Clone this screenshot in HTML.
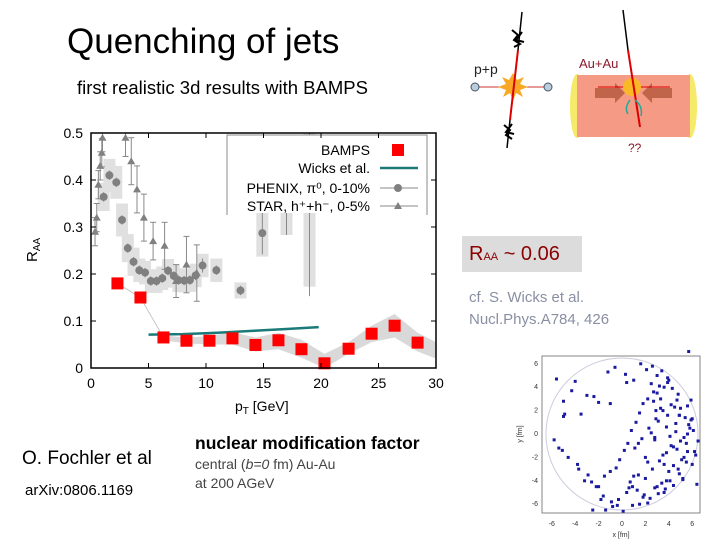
<!DOCTYPE html>
<html><head><meta charset="utf-8"><style>
body{margin:0;background:#fff;}
#root{position:relative;width:720px;height:540px;overflow:hidden;background:#fff;font-family:"Liberation Sans",sans-serif;}
.t{position:absolute;white-space:nowrap;}
</style></head><body>
<div id="root">
<div class="t" style="left:67px;top:22px;font-size:35px;color:#000;">Quenching of jets</div>
<div class="t" style="left:77px;top:77px;font-size:18.5px;color:#000;">first realistic 3d results with BAMPS</div>

<svg id="chart" style="position:absolute;left:0;top:0" width="460" height="420"></svg>

<svg style="position:absolute;left:460px;top:0" width="260" height="170">
 <g>
  <line x1="15" y1="87" x2="88" y2="87" stroke="#c33" stroke-width="1"/>
  <circle cx="15" cy="87" r="4" fill="#bcd" stroke="#456"/>
  <circle cx="88" cy="87" r="4" fill="#bcd" stroke="#456"/>
  <polygon points="53,73 57,80 64,77 60,84 68,87 60,90 63,97 56,93 53,101 50,93 43,97 46,90 38,87 46,84 42,77 49,80" fill="#f9a825"/>
  <line x1="58" y1="50" x2="50" y2="120" stroke="#d00" stroke-width="2"/>
  <line x1="58" y1="50" x2="62" y2="12" stroke="#000" stroke-width="1.5"/>
  <line x1="50" y1="120" x2="47" y2="148" stroke="#000" stroke-width="1.5"/>
  <path d="M52 30 l6 5 l-4 5 l6 4 l-6 3 M62 32 l-6 8 l8 2" stroke="#000" stroke-width="2" fill="none"/>
  <path d="M44 125 l6 5 l-4 5 l6 4 M52 124 l-6 8 l8 2" stroke="#000" stroke-width="2" fill="none"/>
  <text x="14" y="74" font-size="14" font-family="Liberation Sans, sans-serif" fill="#222">p+p</text>
 </g>
 <g>
  <ellipse cx="117" cy="106" rx="7" ry="32" fill="#f5ea6a"/>
  <ellipse cx="230" cy="106" rx="7" ry="32" fill="#f5ea6a"/>
  <rect x="117" y="75" width="113" height="62" fill="#f59a85"/>
  <path d="M135 88 h20 v-5 l10 10 l-10 10 v-5 h-20z" fill="#c0654a"/>
  <path d="M212 88 h-20 v-5 l-10 10 l10 10 v-5 h20z" fill="#c0654a"/>
  <line x1="138" y1="87" x2="210" y2="87" stroke="#d00" stroke-width="1"/>
  <circle cx="172" cy="87" r="9" fill="#f9b825"/>
  <line x1="168" y1="50" x2="180" y2="127" stroke="#d00" stroke-width="2"/>
  <line x1="168" y1="50" x2="163" y2="10" stroke="#000" stroke-width="1.5"/>
  <path d="M170 100 q-6 8 -2 14 M175 100 q8 6 6 16" stroke="#2a9" stroke-width="1.5" fill="none"/>
  <text x="119" y="68" font-size="13" font-family="Liberation Sans, sans-serif" fill="#8b1a2a">Au+Au</text>
  <text x="168" y="152" font-size="12" font-family="Liberation Sans, sans-serif" fill="#8b1a2a">??</text>
 </g>
</svg>

<div style="position:absolute;left:462px;top:236px;width:120px;height:36px;background:#dcdcdc;"></div>
<div class="t" style="left:469px;top:243px;font-size:20px;color:#8b0000;">R<span style="font-size:11px">AA</span> ~ 0.06</div>
<div class="t" style="left:469px;top:287px;font-size:15px;line-height:22px;color:#8a8fa3;">cf. S. Wicks et al.<br>Nucl.Phys.A784, 426</div>

<div class="t" style="left:22px;top:448px;font-size:19px;color:#000;">O. Fochler et al</div>
<div class="t" style="left:25px;top:482px;font-size:15px;color:#000;">arXiv:0806.1169</div>
<div class="t" style="left:195px;top:433px;font-size:17.5px;font-weight:bold;color:#000;">nuclear modification factor</div>
<div class="t" style="left:195px;top:455px;font-size:14px;line-height:19px;color:#444;">central (<i>b=0</i> fm) Au-Au<br>at 200 AGeV</div>

<svg id="scatter" style="position:absolute;left:500px;top:350px" width="220" height="190"></svg>
</div>
<script>
const NS="http://www.w3.org/2000/svg";
// ---- main chart data ----
const xTicks=[0,5,10,15,20,25,30];
const yTicks=[0,0.1,0.2,0.3,0.4,0.5];
const bampsPt=[2.3,4.3,6.3,8.3,10.3,12.3,14.3,16.3,18.3,20.3,22.4,24.4,26.4,28.4];
const bampsR=[0.18,0.15,0.065,0.058,0.058,0.063,0.049,0.059,0.04,0.01,0.041,0.073,0.09,0.054];
const bandPt=[6,8.3,10.3,12.3,14.3,16.3,18.3,20.3,22.4,24.4,26.4,28.4,30];
const bandLo=[0.06,0.052,0.05,0.05,0.035,0.04,0.022,0.0,0.03,0.055,0.065,0.035,0.02];
const bandHi=[0.07,0.065,0.068,0.076,0.065,0.075,0.06,0.03,0.055,0.09,0.115,0.075,0.055];
const wicksPt=[5,8,11,14,17,19.8];
const wicksR=[0.071,0.072,0.075,0.079,0.083,0.087];
const phenixPt=[1.1,1.6,2.2,2.7,3.2,3.7,4.2,4.7,5.2,5.7,6.2,6.7,7.2,7.6,8.1,8.6,9.1,9.7,10.9,13.0,14.9,17.0,19.0];
const phenixR=[0.364,0.41,0.395,0.315,0.255,0.226,0.208,0.203,0.185,0.185,0.191,0.207,0.196,0.187,0.186,0.187,0.197,0.218,0.208,0.165,0.287,0.373,0.343];
const phenixErr=[0.01,0.01,0.01,0.01,0.01,0.01,0.01,0.01,0.01,0.01,0.01,0.01,0.01,0.01,0.01,0.01,0.01,0.015,0.01,0.01,0.045,0.09,0.19];
const phenixSys=[0.03,0.035,0.035,0.035,0.03,0.03,0.025,0.025,0.025,0.025,0.025,0.025,0.025,0.025,0.025,0.025,0.025,0.025,0.025,0.017,0.05,0.09,0.17];
const starPt=[0.35,0.5,0.64,0.8,0.94,1.0,3.0,3.5,4.0,4.6,5.4,6.4,7.4,8.3,9.2];
const starR=[0.29,0.32,0.39,0.43,0.458,0.49,0.49,0.44,0.38,0.32,0.27,0.26,0.185,0.22,0.202];
const starErr=[0.03,0.03,0.03,0.03,0.03,0.03,0.04,0.05,0.05,0.05,0.04,0.05,0.035,0.06,0.06];
const legendLabels=["BAMPS","Wicks et al.","PHENIX, \u03c0\u2070, 0-10%","STAR, h\u207a+h\u207b, 0-5%"];

const X0=91,X1=436,Y0=368,Y1=133;
const xs=v=>X0+v/30*(X1-X0);
const ys=v=>Y0-v/0.5*(Y0-Y1);
const ch=document.getElementById('chart');
function mk(tag,attrs,parent){const e=document.createElementNS(NS,tag);for(const k in attrs)e.setAttribute(k,attrs[k]);(parent||ch).appendChild(e);return e;}
const clip=mk('clipPath',{id:'pc'});mk('rect',{x:X0,y:Y1,width:X1-X0,height:Y0-Y1},clip);
const plot=mk('g',{'clip-path':'url(#pc)'});


let bp=bandPt.map((p,i)=>xs(p)+','+ys(bandHi[i])).join(' ')+' '+bandPt.map((p,i)=>xs(p)+','+ys(bandLo[i])).reverse().join(' ');
const band=mk('polygon',{points:bp,fill:'#d9d9d9'},plot);


phenixPt.forEach((p,i)=>{const r=mk('rect',{x:xs(p)-6,y:ys(phenixR[i]+phenixSys[i]),width:12,height:ys(phenixR[i]-phenixSys[i])-ys(phenixR[i]+phenixSys[i]),fill:'#e0e0e0'},plot);

});
const bl=mk('polyline',{points:bampsPt.slice(0,3).map((p,i)=>xs(p)+','+ys(bampsR[i])).join(' '),fill:'none',stroke:'#bbb','stroke-width':0.8},plot);


starPt.forEach((p,i)=>{const g=mk('g',{},plot);


const x=xs(p),y=ys(starR[i]);
mk('line',{x1:x,x2:x,y1:ys(starR[i]+starErr[i]),y2:ys(starR[i]-starErr[i]),stroke:'#888','stroke-width':1},g);
mk('line',{x1:x-3,x2:x+3,y1:ys(starR[i]+starErr[i]),y2:ys(starR[i]+starErr[i]),stroke:'#888'},g);
mk('line',{x1:x-3,x2:x+3,y1:ys(starR[i]-starErr[i]),y2:ys(starR[i]-starErr[i]),stroke:'#888'},g);
mk('polygon',{points:`${x},${y-4} ${x-4},${y+3} ${x+4},${y+3}`,fill:'#808080'},g);});
phenixPt.forEach((p,i)=>{const g=mk('g',{},plot);


const x=xs(p);
mk('line',{x1:x,x2:x,y1:ys(phenixR[i]+phenixErr[i]),y2:ys(phenixR[i]-phenixErr[i]),stroke:'#888'},g);
mk('circle',{cx:x,cy:ys(phenixR[i]),r:4,fill:'#808080'},g);});
const wl=mk('polyline',{points:wicksPt.map((p,i)=>xs(p)+','+ys(wicksR[i])).join(' '),fill:'none',stroke:'#1a7a78','stroke-width':2.5},plot);


bampsPt.forEach((p,i)=>{const r=mk('rect',{x:xs(p)-6,y:ys(bampsR[i])-6,width:12,height:12,fill:'#f00'});

});
const lg=mk('g',{});


mk('rect',{x:227,y:135,width:200,height:78,fill:'#fff'},lg);
mk('polyline',{points:'227,215 227,135 427,135 427,215',fill:'none',stroke:'#888','stroke-width':1},lg);
const ly=[150,168,188,206];
legendLabels.forEach((t,i)=>{const tx=mk('text',{x:370,y:ly[i]+5,'text-anchor':'end','font-size':14,'font-family':'Liberation Sans, sans-serif',fill:'#000'},lg);tx.textContent=t;

});
mk('rect',{x:392,y:144,width:12,height:12,fill:'#f00'},lg);
mk('line',{x1:380,x2:418,y1:168,y2:168,stroke:'#1a7a78','stroke-width':2.5},lg);
mk('line',{x1:380,x2:418,y1:188,y2:188,stroke:'#888'},lg);mk('circle',{cx:398,cy:188,r:4,fill:'#808080'},lg);
mk('line',{x1:380,x2:418,y1:206,y2:206,stroke:'#888'},lg);mk('polygon',{points:'398,202 394,209 402,209',fill:'#808080'},lg);
const fr=mk('rect',{x:X0,y:Y1,width:X1-X0,height:Y0-Y1,fill:'none',stroke:'#000','stroke-width':1.5});


xTicks.forEach(v=>{mk('line',{x1:xs(v),x2:xs(v),y1:Y0,y2:Y0-5,stroke:'#000'});mk('line',{x1:xs(v),x2:xs(v),y1:Y1,y2:Y1+5,stroke:'#000'});
const t=mk('text',{x:xs(v),y:388,'text-anchor':'middle','font-size':14,'font-family':'Liberation Sans, sans-serif'});t.textContent=v;

});
yTicks.forEach(v=>{mk('line',{x1:X0,x2:X0+5,y1:ys(v),y2:ys(v),stroke:'#000'});mk('line',{x1:X1,x2:X1-5,y1:ys(v),y2:ys(v),stroke:'#000'});
const t=mk('text',{x:83,y:ys(v)+5,'text-anchor':'end','font-size':14,'font-family':'Liberation Sans, sans-serif'});t.textContent=v===0?'0':v.toFixed(1);

});
const xt=mk('text',{x:235,y:411,'font-size':14,'font-family':'Liberation Sans, sans-serif'});xt.innerHTML='p<tspan font-size="10" dy="3">T</tspan><tspan dy="-3"> [GeV]</tspan>';


const yt=mk('text',{x:0,y:0,'font-size':15,'font-family':'Liberation Sans, sans-serif',transform:'translate(37,262) rotate(-90)'});yt.innerHTML='R<tspan font-size="10" dy="3">AA</tspan>';



// ---- scatter ----
const scX=[5.8,5.5,6.2,4.9,5.1,4.6,5.9,5.3,4.2,3.8,4.5,3.5,3.1,2.8,3.6,4.0,2.5,2.9,3.3,4.8,5.6,6.0,5.2,4.4,3.9,3.2,2.7,2.2,1.8,1.5,1.2,0.8,0.5,0.2,-0.2,-0.5,-1.0,-1.5,-2.0,-2.6,-3.2,-3.8,-4.6,-5.1,-5.4,-5.8,-4.9,-3.5,-2.4,-1.2,-0.6,0.3,1.0,1.6,2.1,2.6,3.0,3.4,3.9,4.3,4.7,5.0,5.4,5.7,6.1,6.5,6.3,5.5,4.9,4.1,3.7,3.1,2.4,1.9,1.3,0.7,2.0,2.6,3.2,3.8,4.4,5.0,5.6,4.6,3.9,3.3,2.7,2.0,1.4,0.9,0.4,-0.3,-0.9,-1.6,-2.2,-2.9,-3.7,-4.3,-5.0,1.1,1.7,2.3,2.9,3.5,4.1,4.7,5.3,5.9,3.0,2.5,4.0,4.8,5.6,3.4,2.2,1.5,0.6,-0.4,-1.4,-1.8,-2.5,-0.8,0.1,0.9,1.8,2.8,3.6,4.4,5.2,6.0,6.4,3.8,4.2,1.0,2.2,3.0,-1.0,-2.0,-3.0,-4.0,-5.0,-5.6,0.4,1.4,2.8,3.6,4.9,5.7];
const scY=[0.5,-0.8,-1.5,1.6,-2.2,0.2,1.2,-0.3,-1.0,0.6,2.3,-1.8,1.1,-0.5,-2.6,-3.2,0.1,2.0,3.0,3.4,2.4,-2.6,-3.8,-4.4,4.4,4.1,3.6,3.0,2.6,1.8,1.0,0.3,-0.8,-1.4,-2.2,-2.9,-3.2,-3.6,-4.5,-4.1,-4.0,-2.6,-2.0,-1.4,-1.2,-0.5,1.7,1.7,3.2,5.3,5.7,5.1,4.6,6.0,5.5,5.8,5.0,5.4,4.8,3.9,2.9,2.2,1.4,0.8,0.3,-0.6,-1.8,-2.4,-3.4,-4.0,-4.7,-5.1,-5.5,-5.2,-4.8,-4.1,-3.8,-3.0,-2.3,-1.6,-1.1,-0.6,0.0,0.9,1.6,2.2,2.8,-2.0,-3.5,-4.5,-5.0,-5.6,-5.8,-5.3,-4.5,-3.5,-3.0,3.7,2.8,-1.2,-0.4,0.5,1.3,2.0,-0.2,-1.3,-2.0,2.9,3.5,4.3,4.6,-3.0,-1.5,-4.2,-5.9,-6.0,-4.6,-6.1,-6.5,-5.6,-6.5,-6.2,-6.6,-6.1,-5.4,-4.6,-5.0,-2.7,-3.9,1.3,-4.3,-4.0,2.5,-3.6,-2.4,-4.5,2.6,2.7,3.3,4.5,1.5,4.7,4.4,-0.8,-0.3,4.0,1.6];
const SX0=622,SY0=434,SK=11.7;
const sc=document.getElementById('scatter');
function sm(tag,attrs){const e=document.createElementNS(NS,tag);for(const k in attrs)e.setAttribute(k,attrs[k]);sc.appendChild(e);return e;}
const sxs=v=>SX0-500+v*SK, sys=v=>SY0-350-v*SK;
sm('circle',{cx:sxs(0),cy:sys(0),r:6.5*SK,fill:'none',stroke:'#ccd','stroke-width':1});
scX.forEach((x,i)=>{const c=sm('rect',{x:sxs(x)-1.5,y:sys(scY[i])-1.5,width:3,height:3,fill:'#1a1aa0'});

});
sm('rect',{x:42,y:6,width:158,height:157,fill:'none',stroke:'#666','stroke-width':0.8});
[-6,-4,-2,0,2,4,6].forEach(v=>{const t=sm('text',{x:sxs(v),y:176,'text-anchor':'middle','font-size':7,'font-family':'Liberation Sans, sans-serif',fill:'#333'});t.textContent=v;


const u=sm('text',{x:38,y:sys(v)+2,'text-anchor':'end','font-size':7,'font-family':'Liberation Sans, sans-serif',fill:'#333'});u.textContent=v;

});
const sxl=sm('text',{x:121,y:187,'text-anchor':'middle','font-size':7,'font-family':'Liberation Sans, sans-serif',fill:'#333'});sxl.textContent='x [fm]';


const syl=sm('text',{x:0,y:0,'text-anchor':'middle','font-size':7,'font-family':'Liberation Sans, sans-serif',fill:'#333',transform:'translate(22,84) rotate(-90)'});syl.textContent='y [fm]';


</script>
</body></html>
